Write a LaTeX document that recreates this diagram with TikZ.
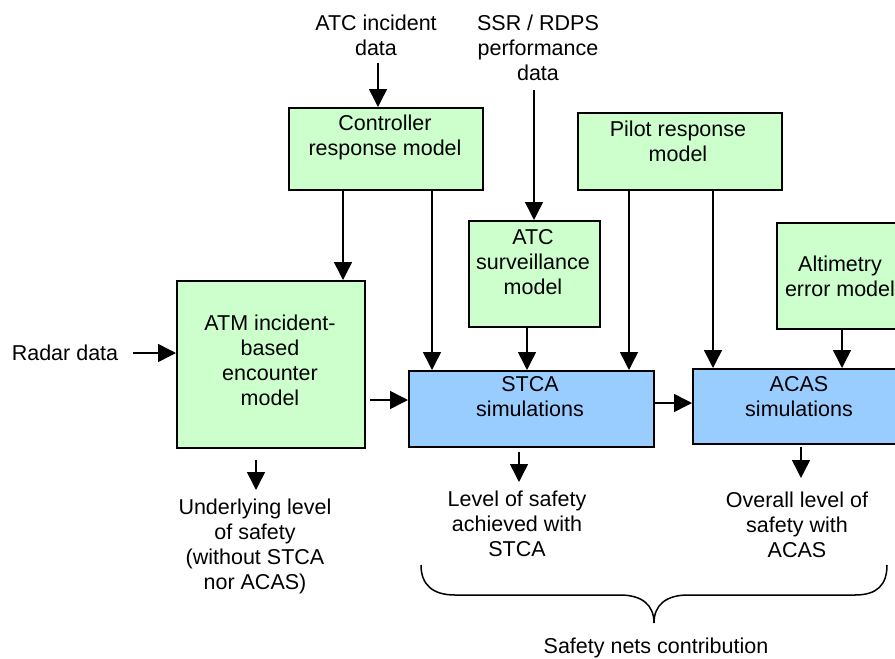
\documentclass[tikz,border=0pt]{standalone}
\usepackage{fontspec}
\setmainfont{Liberation Sans}
\usetikzlibrary{arrows.meta,calc}
\definecolor{boxgreen}{HTML}{CCFFCC}
\definecolor{boxblue}{HTML}{99CCFF}
\begin{document}
\begin{tikzpicture}[x=1pt,y=-1pt,
  every node/.style={font=\fontsize{21.5}{25}\selectfont},
  txt/.style={align=center, inner sep=0pt},
  gbox/.style={draw, line width=1.5pt, fill=boxgreen, inner sep=0pt, anchor=north west},
  bbox/.style={draw, line width=1.5pt, fill=boxblue, inner sep=0pt, anchor=north west},
  arr/.style={line width=1.5pt, -{Triangle[length=18pt,width=18pt]}}]
\useasboundingbox (0,0) rectangle (895,659);

% boxes
\node[gbox, minimum width=194pt, minimum height=82pt] (ctrl) at (288,107) {};
\node[gbox, minimum width=204pt, minimum height=77pt] (pilot) at (577,112) {};
\node[gbox, minimum width=131pt, minimum height=106pt] (surv) at (468,220) {};
\node[gbox, minimum width=130pt, minimum height=106pt] (alt) at (776,222) {};
\node[gbox, minimum width=188pt, minimum height=167pt] (atm) at (176,280) {};
\node[bbox, minimum width=245pt, minimum height=76pt] (stca) at (408,370) {};
\node[bbox, minimum width=215pt, minimum height=75pt] (acas) at (692,368) {};

% box texts
\node[txt] (ctrlt) at (385,137.5) {Controller\\response model};
\node[txt] (pilott) at (678,141) {Pilot response\\model};
\node[txt] (survt) at (533,262) {ATC\\surveillance\\model};
\node[txt] (altt) at (840,276) {Altimetry\\error model};
\node[txt] (atmt) at (270,360) {ATM incident-\\based\\encounter\\model};
\node[txt] (stcat) at (530,397) {STCA\\simulations};
\node[txt] (acast) at (799,397) {ACAS\\simulations};

% free texts
\node[txt] (atcin) at (376,35) {ATC incident\\data};
\node[txt] (ssr) at (538,48) {SSR / RDPS\\performance\\data};
\node[txt] (radar) at (65,353) {Radar data};
\node[txt] (under) at (255,546) {Underlying level\\of safety\\(without STCA\\nor ACAS)};
\node[txt] (lvl) at (517,524) {Level of safety\\achieved with\\STCA};
\node[txt] (overall) at (797,525) {Overall level of\\safety with\\ACAS};
\node[txt] (nets) at (656,648) {Safety nets contribution};

% arrow coordinates
\coordinate (s1) at (378,63);
\coordinate (s2) at (534,90);
\coordinate (s3) at (133,353);
\coordinate (xa) at (343,0);
\coordinate (xb) at (432,0);
\coordinate (xc) at (527,0);
\coordinate (xd) at (629,0);
\coordinate (xe) at (713,0);
\coordinate (xf) at (842,0);
\coordinate (ya) at (0,400);
\coordinate (yb) at (0,403);
\coordinate (e1) at (256,490);
\coordinate (e2) at (519,482);
\coordinate (e3) at (801,478);

% connectors
\draw[arr] (s1) -- (s1 |- ctrl.north);
\draw[arr] (s2) -- (s2 |- surv.north);
\draw[arr] (s3) -- (s3 -| atm.west);
\draw[arr] (ctrl.south -| xa) -- (atm.north -| xa);
\draw[arr] (ctrl.south -| xb) -- (stca.north -| xb);
\draw[arr] (surv.south -| xc) -- (stca.north -| xc);
\draw[arr] (pilot.south -| xd) -- (stca.north -| xd);
\draw[arr] (pilot.south -| xe) -- (acas.north -| xe);
\draw[arr] (alt.south -| xf) -- (acas.north -| xf);
\draw[arr, shorten <=4pt] (atm.east |- ya) -- (stca.west |- ya);
\draw[arr] (stca.east |- yb) -- (acas.west |- yb);
\draw[arr, shorten <=11pt] (atm.south -| e1) -- (e1);
\draw[arr, shorten <=4pt] (stca.south -| e2) -- (e2);
\draw[arr, shorten <=2pt] (acas.south -| e3) -- (e3);

% brace
\draw[line width=1.5pt] (421,565) .. controls (421,585) and (433,595) .. (455,595)
  -- (620,595) .. controls (642,595) and (654,605) .. (654,623)
  .. controls (654,605) and (666,595) .. (688,595)
  -- (855,595) .. controls (877,595) and (887,585) .. (887,565);
\end{tikzpicture}
\end{document}
